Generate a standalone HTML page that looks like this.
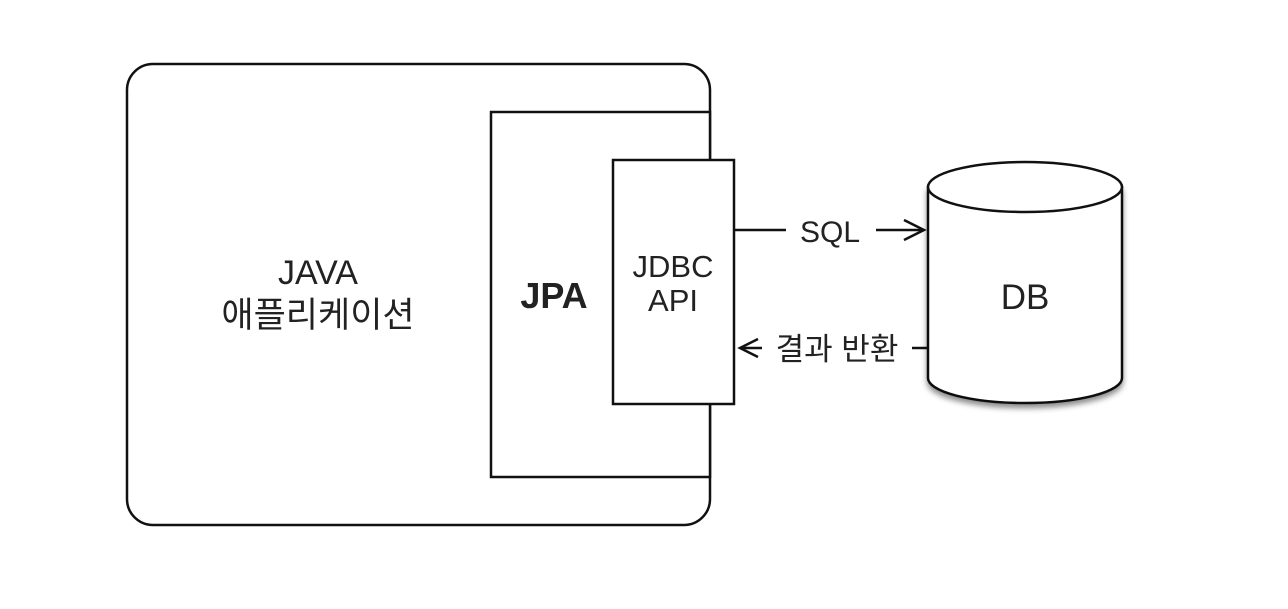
<!DOCTYPE html>
<html><head><meta charset="utf-8"><style>
body{margin:0;background:#fff}
text{font-family:"Liberation Sans","Noto Sans CJK KR",sans-serif;fill:#222}
</style></head><body>
<svg width="1288" height="604" viewBox="0 0 1288 604" xmlns="http://www.w3.org/2000/svg">
<defs><filter id="sh" x="-20%" y="-20%" width="140%" height="140%"><feDropShadow dx="0" dy="4" stdDeviation="3" flood-color="#000" flood-opacity="0.45"/></filter></defs>
<g stroke="#111" stroke-width="2.5" fill="#fff">
<rect x="127" y="64" width="583" height="461" rx="26"/>
<rect x="491" y="112" width="219" height="365"/>
<rect x="613" y="160" width="121" height="244"/>
</g>
<text x="318" y="284" font-size="34" text-anchor="middle">JAVA</text>
<text x="318" y="327" font-size="35" text-anchor="middle">애플리케이션</text>
<text x="554" y="308" font-size="36" font-weight="bold" text-anchor="middle">JPA</text>
<text x="673" y="277" font-size="31" text-anchor="middle">JDBC</text>
<text x="673" y="311" font-size="31" text-anchor="middle">API</text>
<g stroke="#111" stroke-width="2.5" fill="none">
<line x1="734" y1="230" x2="786" y2="230"/>
<line x1="876" y1="230" x2="924" y2="230"/>
<polyline points="904,220 924,230 904,240"/>
<line x1="740" y1="348" x2="762" y2="348"/>
<polyline points="758,339 740,348 758,357"/>
<line x1="912" y1="348" x2="928" y2="348"/>
</g>
<text x="830" y="242" font-size="30" text-anchor="middle">SQL</text>
<text x="837" y="360" font-size="31" text-anchor="middle">결과 반환</text>
<g stroke="#111" stroke-width="2.5" fill="#fff">
<path d="M928,187 L928,378 A97,25 0 0 0 1122,378 L1122,187 Z" filter="url(#sh)"/>
<ellipse cx="1025" cy="187" rx="97" ry="25"/>
</g>
<text x="1025" y="309" font-size="35" text-anchor="middle">DB</text>
</svg>
</body></html>
